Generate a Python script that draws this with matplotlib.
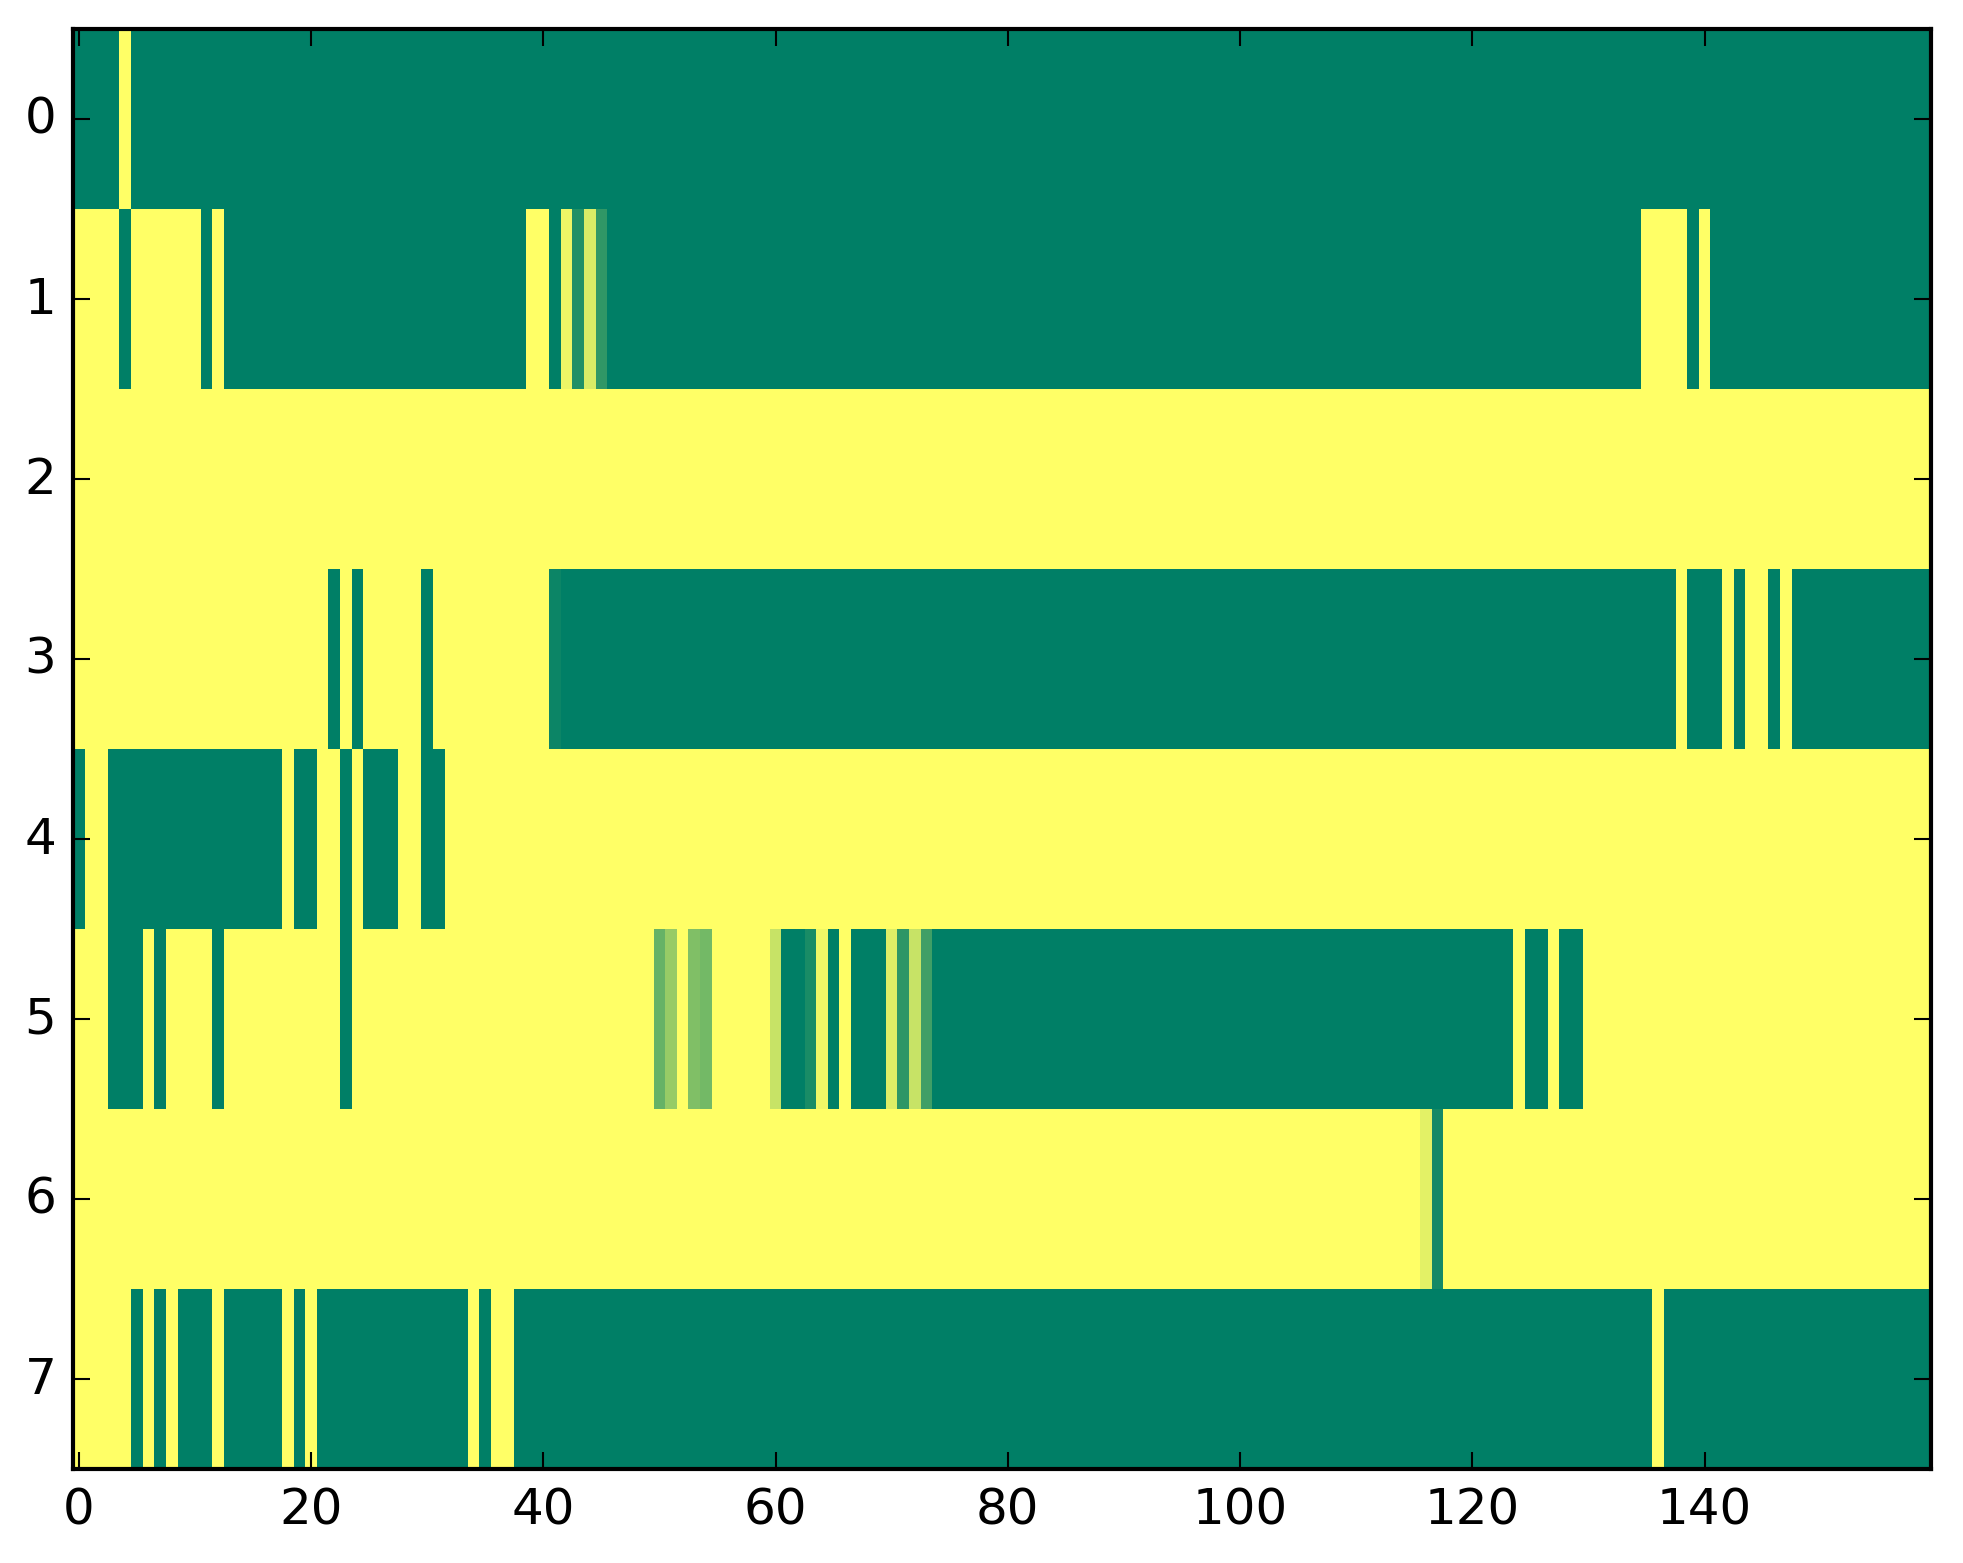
import numpy as np
import matplotlib
matplotlib.use('Agg')
import matplotlib.pyplot as plt

# one list per row, 160 columns each (1 = yellow, 0 = green, fractions in between)
row0 = [0]*4 + [1] + [0]*155
row1 = ([1]*4 + [0] + [1]*6 + [0] + [1] + [0]*26 + [1]*2 + [0]
        + [0.93, 0.13, 0.85, 0.19] + [0]*89 + [1]*4 + [0] + [1] + [0]*19)
row2 = [1]*160
row3 = ([1]*22 + [0] + [1] + [0] + [1]*5 + [0] + [1]*10 + [0.05] + [0]*96
        + [1] + [0]*3 + [1] + [0] + [1]*2 + [0] + [1] + [0]*12)
row4 = ([0] + [1]*2 + [0]*15 + [1] + [0]*2 + [1]*2 + [0] + [1] + [0]*3
        + [1]*2 + [0]*2 + [1]*128)
row5 = ([1]*3 + [0]*3 + [1] + [0] + [1]*4 + [0] + [1]*10 + [0] + [1]*26
        + [0.40, 0.59, 1, 0.50, 0.45] + [1]*5 + [0.78] + [0]*2 + [0.10, 0.94]
        + [0] + [1] + [0]*3 + [0.87, 0.18, 0.78, 0.25] + [0]*50
        + [1] + [0]*2 + [1] + [0]*2 + [1]*30)
row6 = [1]*116 + [0.89, 0.08] + [1]*42
row7 = ([1]*5 + [0] + [1] + [0] + [1] + [0]*3 + [1] + [0]*5 + [1] + [0] + [1]
        + [0]*13 + [1] + [0] + [1]*2 + [0]*98 + [1] + [0]*23)

xticks = [0, 20, 40, 60, 80, 100, 120, 140]
yticks = [0, 1, 2, 3, 4, 5, 6, 7]


def main():
    plt.style.use('classic')
    data = np.array([row0, row1, row2, row3, row4, row5, row6, row7], dtype=float)

    fig = plt.figure(figsize=(1963 / 300, 1564 / 300), dpi=300)
    ax = fig.add_axes([0.0372, 0.0604, 0.9465, 0.9204])
    ax.imshow(data, cmap='summer', aspect='auto', interpolation='nearest',
              vmin=0, vmax=1)
    ax.set_xticks(xticks)
    ax.set_yticks(yticks)
    ax.set_xlim(-0.5, 159.5)
    ax.set_ylim(7.5, -0.5)
    ax.tick_params(labelsize=12)
    fig.savefig('out.png', dpi=300)


if __name__ == "__main__":
    main()
